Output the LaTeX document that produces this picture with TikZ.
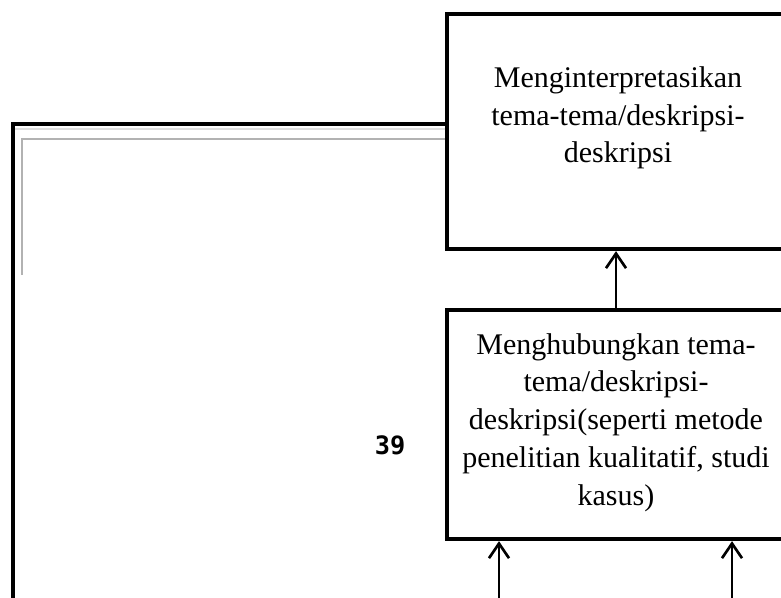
\documentclass[tikz,border=0pt]{standalone}
\usepackage{fontspec}
\setmainfont{Liberation Serif}
\newfontfamily\pixelfont{DejaVu Sans Mono Bold}
\usetikzlibrary{arrows.meta}
\begin{document}
\begin{tikzpicture}[x=0.75pt, y=-0.75pt, >={Straight Barb[length=11pt,width=15pt]}, main box/.style={rectangle,draw,line width=3.2pt,inner sep=0pt},box text/.style={align=center,inner sep=0pt,font=\fontsize{22.5}{28.3}\selectfont}]%page size in px
\useasboundingbox (0,0) rectangle (781,597);
\clip (0,0) rectangle (781,597);
\begin{scope}
\draw[gray!25, line width=1.5pt] (15,129) -- (447,129);
\draw[gray!60, line width=1.5pt] (22,275) -- (22,139) -- (447,139);
\draw[line width=3pt] (13,600) -- (13,124) -- (447,124);
\end{scope}
\begin{scope}
\node[main box, minimum width=253.5pt, minimum height=176.25pt] (b1) at (616,131.5) {};
\node[main box, minimum width=253.5pt, minimum height=171.75pt] (b2) at (616,424.5) {};
\node[box text] (t1) at (618,118) {Menginterpretasikan\\tema-tema/deskripsi-\\deskripsi};
\node[box text] (t2) at (616,422.5) {Menghubungkan tema-\\tema/deskripsi-\\deskripsi(seperti metode\\penelitian kualitatif, studi\\kasus)};
\node[font=\pixelfont\fontsize{19}{19}\selectfont, inner sep=0pt] (pg) at (390,445) {39};
\end{scope}
\begin{scope}[line width=2pt]
\coordinate (in1) at (499,600);
\coordinate (in2) at (732,600);
\draw[->] (b2.north) -- (b1.south);
\draw[->] (in1) -- (in1 |- b2.south);
\draw[->] (in2) -- (in2 |- b2.south);
\end{scope}
\end{tikzpicture}
\end{document}
